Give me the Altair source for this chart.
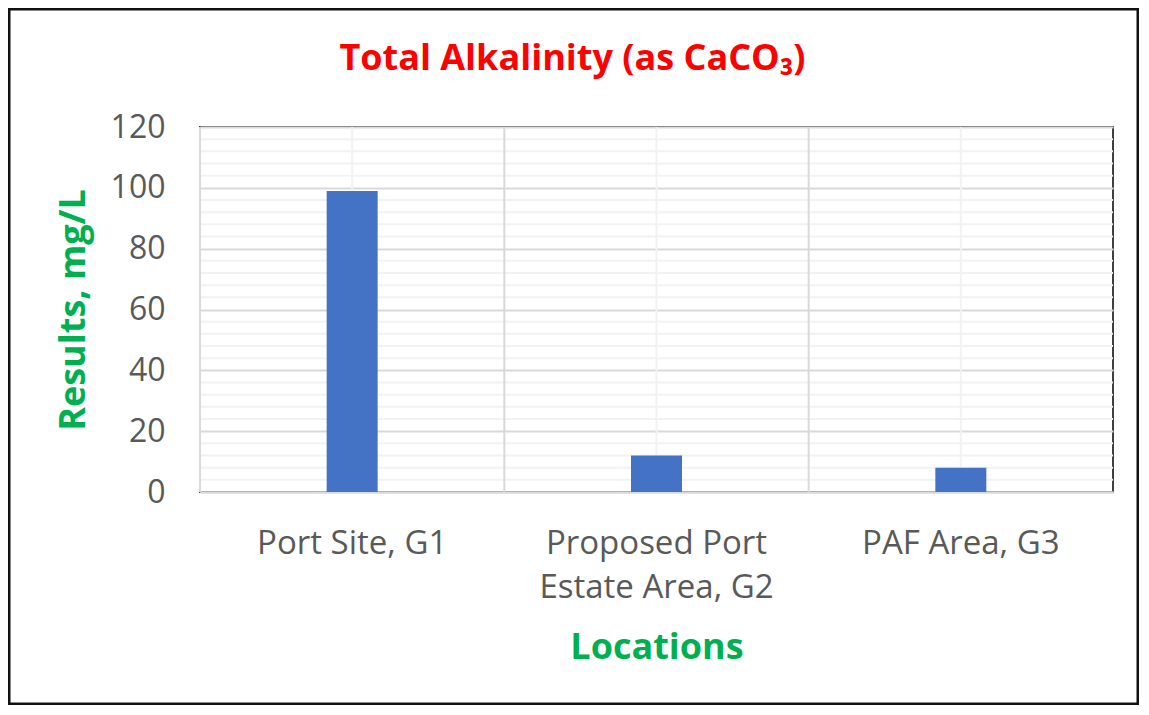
import altair as alt
import pandas as pd

# ---- data ----
locations = ["Port Site, G1", "Proposed Port|Estate Area, G2", "PAF Area, G3"]
results = [99, 12, 8]
major_ticks = [0, 20, 40, 60, 80, 100, 120]
minor_ticks = [4, 8, 12, 16, 24, 28, 32, 36, 44, 48, 52, 56, 64, 68, 72, 76,
               84, 88, 92, 96, 104, 108, 112, 116]

W, H = 913, 365
PL, PT, PR, PB = 192, 119, 26, 213
FONT = "Open Sans"
GREEN = "#00B050"
GRAY = "#595959"

df = pd.DataFrame({"Location": locations, "Result": results})
minor_df = pd.DataFrame({"v": minor_ticks})
frame_df = pd.DataFrame({"a": [0]})

xscale = alt.Scale(domain=locations, paddingInner=0, paddingOuter=0)
yscale = alt.Scale(domain=[0, 120], nice=False)

minor_h = alt.Chart(minor_df).mark_rule(color="#F2F2F2", strokeWidth=2).encode(
    y=alt.Y("v:Q", scale=yscale, axis=None)
)
minor_v = alt.Chart(df).mark_rule(color="#F2F2F2", strokeWidth=2).encode(
    x=alt.X("Location:N", scale=xscale, axis=None)
)
major_v = alt.Chart(df).mark_rule(color="#D9D9D9", strokeWidth=2).encode(
    x=alt.X("Location:N", scale=xscale, axis=None, bandPosition=0)
)

bars = alt.Chart(df).mark_bar(color="#4472C4", size=51).encode(
    x=alt.X(
        "Location:N",
        scale=xscale,
        axis=alt.Axis(
            title="Locations",
            labelExpr="split(datum.label, '|')",
            labelAngle=0,
            labelLimit=0,
            labelFont=FONT,
            labelFontSize=33,
            labelColor=GRAY,
            labelLineHeight=44,
            labelPadding=35,
            ticks=False,
            grid=False,
            domainColor="#D9D9D9",
            domainWidth=2,
            titleFont=FONT,
            titleFontSize=36,
            titleFontWeight="bold",
            titleColor=GREEN,
            titleX=W / 2,
            titleY=166,
            titleBaseline="alphabetic",
            titleAlign="center",
        ),
    ),
    y=alt.Y(
        "Result:Q",
        scale=yscale,
        axis=alt.Axis(
            title="Results, mg/L",
            values=major_ticks,
            grid=True,
            gridColor="#D9D9D9",
            gridWidth=2,
            domain=False,
            ticks=False,
            labelFont=FONT,
            labelFontSize=32,
            labelColor=GRAY,
            labelPadding=35,
            titleFont=FONT,
            titleFontSize=36,
            titleFontWeight="bold",
            titleColor=GREEN,
            titleX=-127,
            titleY=H / 2,
            titleBaseline="middle",
            titleAlign="center",
        ),
    ),
)

frame = alt.Chart(frame_df).mark_rect(
    filled=False, stroke="#111111", strokeWidth=3
).encode(
    x=alt.value(-191), x2=alt.value(W + 25),
    y=alt.value(-118), y2=alt.value(H + 212),
)

chart = alt.layer(minor_h, minor_v, major_v, bars, frame).resolve_axis(
    x="independent", y="independent"
).properties(
    width=W,
    height=H,
    autosize=alt.AutoSizeParams(type="none"),
    padding={"left": PL, "top": PT, "right": PR, "bottom": PB},
    background="white",
    title=alt.TitleParams(
        text="Total Alkalinity (as CaCO₃)",
        font=FONT,
        fontSize=36,
        fontWeight="bold",
        color="#FF0000",
        anchor="middle",
        frame="group",
        baseline="alphabetic",
        offset=-98,
        dx=-84,
    ),
).configure_view(stroke="#404040", strokeWidth=2)

chart.save("out.html", embed_options={"renderer": "svg", "actions": False})
